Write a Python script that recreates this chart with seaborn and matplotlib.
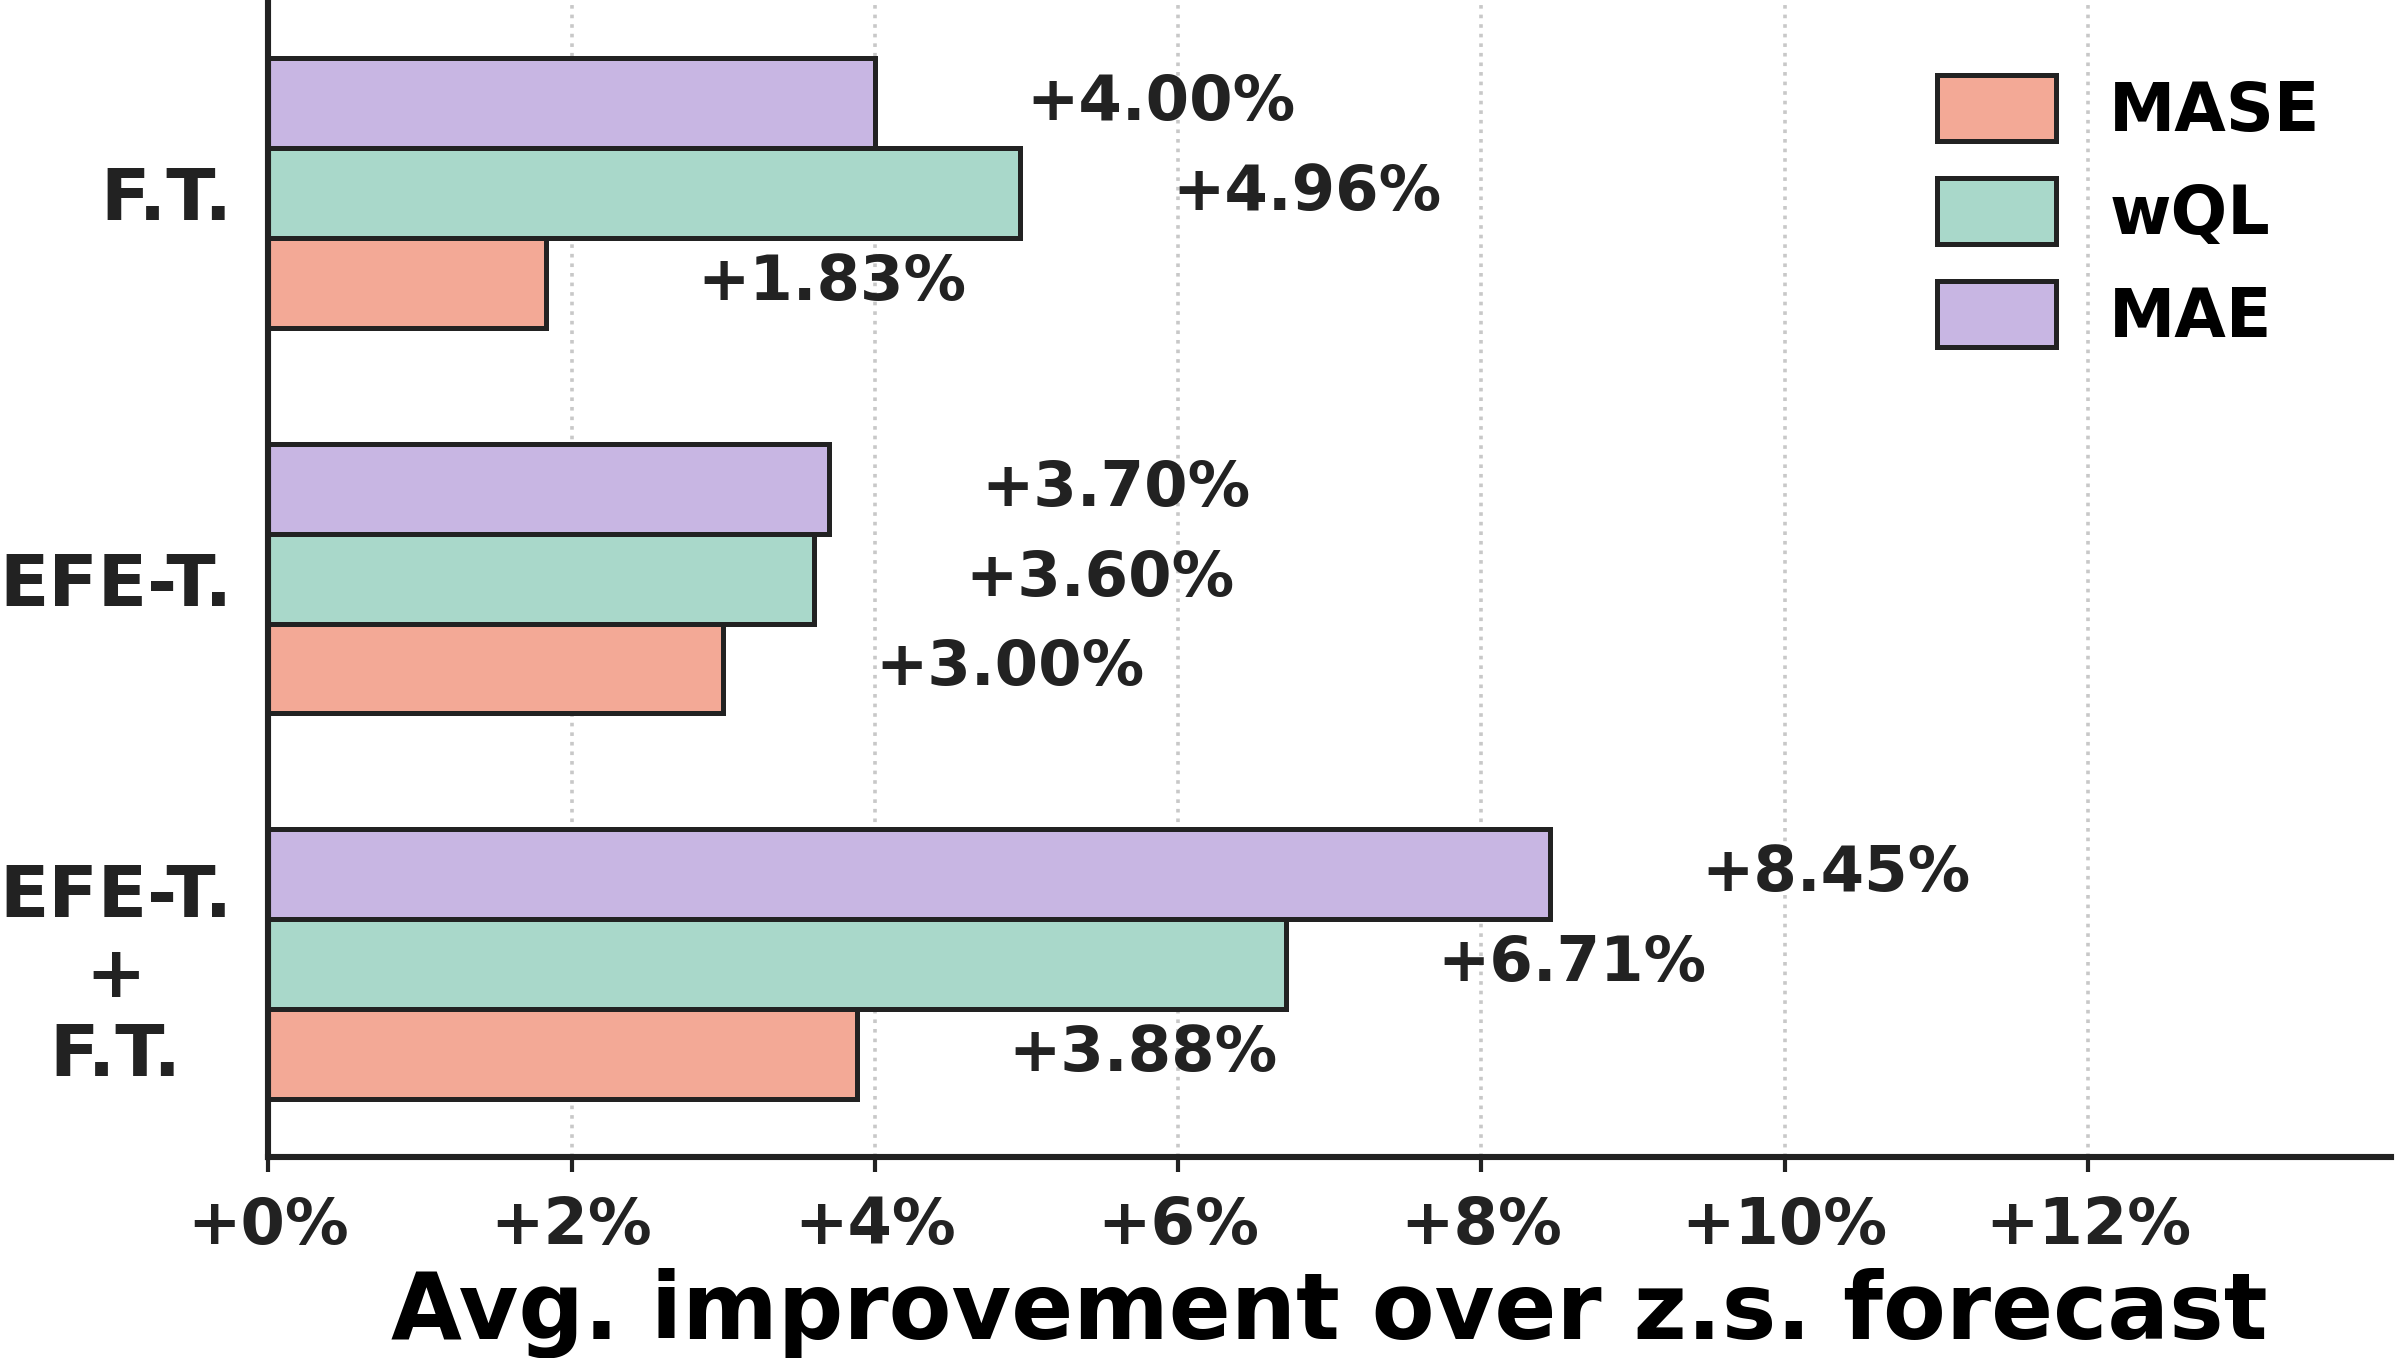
import numpy as np
import pandas as pd
import matplotlib
matplotlib.use("Agg")
import matplotlib.pyplot as plt
import seaborn as sns

# 数据
methods = ['F.T.', 'EFE-T.', 'EFE-T.\n+\nF.T.']
metrics = ['MASE', 'wQL', 'MAE']
mase = [1.83, 3.00, 3.88]
wql = [4.96, 3.60, 6.71]
mae = [4.00, 3.70, 8.45]
xticks = [0, 2, 4, 6, 8, 10, 12]
palette = {'MASE': '#F3A996', 'wQL': '#A9D8CA', 'MAE': '#C8B6E3'}

df = pd.DataFrame({
    'method': methods * 3,
    'metric': ['MASE'] * 3 + ['wQL'] * 3 + ['MAE'] * 3,
    'value': mase + wql + mae,
})

sns.set_theme(style='white')
plt.rcParams['font.family'] = ['DejaVu Sans']
plt.rcParams['font.weight'] = 'bold'

fig, ax = plt.subplots(figsize=(11.98, 6.79), dpi=200)
fig.subplots_adjust(left=0.112, right=0.998, top=1.0, bottom=0.148)

sns.barplot(data=df, y='method', x='value', hue='metric',
            hue_order=['MAE', 'wQL', 'MASE'], order=methods,
            palette=palette, width=0.7, edgecolor='#222222',
            linewidth=1.8, saturation=1, ax=ax)

# 数值标注
for cont in ax.containers:
    for bar in cont:
        w = bar.get_width()
        ax.text(w + 1.0, bar.get_y() + bar.get_height() / 2, f'+{w:.2f}%',
                ha='left', va='center', fontsize=22.5, fontweight='bold', color='#222222')

ax.set_xlim(0, 14)
ax.set_ylim(2.5, -0.5)
ax.set_xticks(xticks)
ax.set_xticklabels([f'+{t}%' for t in xticks], fontsize=23, fontweight='bold', color='#222222')
ax.set_yticks(range(len(methods)))
ax.set_yticklabels(methods, fontsize=26, fontweight='bold', color='#222222',
                   multialignment='center', linespacing=1.2)
ax.set_ylabel('')
ax.set_xlabel('Avg. improvement over z.s. forecast', fontsize=33, fontweight='bold',
              color='black', labelpad=4)

ax.tick_params(axis='x', length=5.5, width=1.5, color='#222222', pad=8, bottom=True)
ax.tick_params(axis='y', length=0, pad=13)
ax.grid(axis='x', linestyle=':', color='#c8c8c8', linewidth=1.3)
ax.set_axisbelow(True)
for s in ['top', 'right']:
    ax.spines[s].set_visible(False)
for s in ['left', 'bottom']:
    ax.spines[s].set_color('#222222')
    ax.spines[s].set_linewidth(2.2)

handles, labels = ax.get_legend_handles_labels()
leg = ax.legend(handles[::-1], labels[::-1], loc='upper right',
                bbox_to_anchor=(0.995, 0.987), frameon=False,
                prop={'size': 24, 'weight': 'bold'}, handlelength=1.79,
                handleheight=1.15, labelspacing=0.5, handletextpad=0.8)
for t in leg.get_texts():
    t.set_color('black')

plt.savefig('out.png', dpi=200)
